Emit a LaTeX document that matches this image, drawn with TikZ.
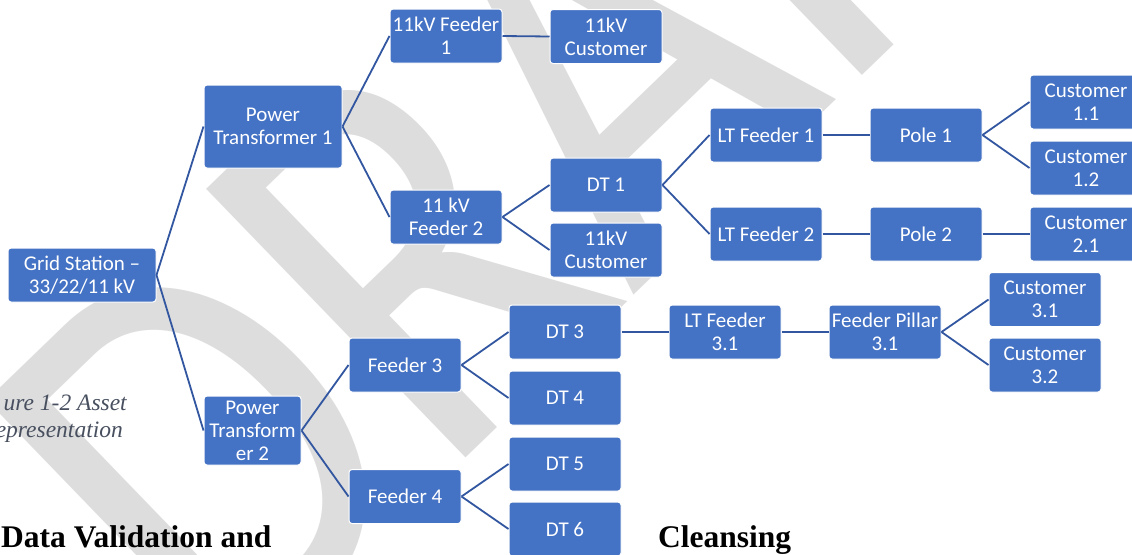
\documentclass[tikz,border=0pt]{standalone}
\usepackage{fontspec}
\newfontfamily\boxfont{Carlito}
\newfontfamily\headfont{Liberation Serif}
\definecolor{boxblue}{RGB}{68,114,196}
\definecolor{linkblue}{RGB}{50,87,160}
\definecolor{wmgray}{RGB}{221,221,221}
\definecolor{capgray}{RGB}{72,80,96}
\tikzset{
  box/.style={draw=white, line width=1pt, fill=boxblue, rounded corners=3pt,
    text=white, font=\boxfont\fontsize{21}{23}\selectfont, align=center,
    minimum width=112pt, minimum height=54pt, inner sep=0pt},
  link/.style={draw=linkblue, line width=1.8pt},
  plain/.style={inner sep=0pt},
  captext/.style={plain, anchor=base east, text=capgray,
    font=\headfont\itshape\fontsize{23.5}{27}\selectfont},
  headtext/.style={plain, anchor=base west,
    font=\headfont\bfseries\fontsize{31.5}{36}\selectfont},
}
\begin{document}
\begin{tikzpicture}[x=1pt,y=-1pt]
\useasboundingbox (0,0) rectangle (1132,554);
\fill[white] (0,0) rectangle (1132,554);
% watermark
\node[plain, rotate=44, anchor=base west, text=wmgray,
  font=\boxfont\fontsize{582}{582}\selectfont] (wm) at (222,693) {\scalebox{0.847}[1]{DRAFT}};
% caption and heading
\node[captext] (cap1) at (127,410) {ure 1-2 Asset};
\node[captext] (cap2) at (123,437) {epresentation};
\node[headtext] (h1) at (1,547) {Data Validation and};
\node[headtext] (h2) at (658,547) {Cleansing};
% boxes
\node[box, minimum width=148pt] (gs) at (82,275) {Grid Station –\\33/22/11 kV};
\node[box, minimum width=138pt, minimum height=83pt] (pt1) at (273,126.5) {Power\\Transformer 1};
\node[box, minimum width=97pt, minimum height=69pt] (pt2) at (252.5,430.5) {Power\\Transform\\er 2};
\node[box] (f1) at (446,36) {11kV Feeder\\1};
\node[box] (c11) at (606,36.5) {11kV\\Customer};
\node[box] (f2) at (446,217) {11 kV\\Feeder 2};
\node[box] (dt1) at (606,185) {DT 1};
\node[box] (c12) at (606,250) {11kV\\Customer};
\node[box] (ltf1) at (766,135) {LT Feeder 1};
\node[box] (pole1) at (926,135) {Pole 1};
\node[box] (cu11) at (1086,102) {Customer\\1.1};
\node[box] (cu12) at (1086,168) {Customer\\1.2};
\node[box] (ltf2) at (766,234) {LT Feeder 2};
\node[box] (pole2) at (926,234) {Pole 2};
\node[box] (cu21) at (1086,234) {Customer\\2.1};
\node[box] (f3) at (405,365) {Feeder 3};
\node[box] (f4) at (405,496.5) {Feeder 4};
\node[box] (dt3) at (565,332) {DT 3};
\node[box] (dt4) at (565,398) {DT 4};
\node[box] (dt5) at (565,464) {DT 5};
\node[box] (dt6) at (565,529) {DT 6};
\node[box] (ltf31) at (725,332) {LT Feeder\\3.1};
\node[box] (fp31) at (885,332) {Feeder Pillar\\3.1};
\node[box] (cu31) at (1045,299.5) {Customer\\3.1};
\node[box] (cu32) at (1045,365) {Customer\\3.2};
% connectors
\foreach \a/\b in {gs/pt1, gs/pt2, pt1/f1, pt1/f2, f1/c11, f2/dt1, f2/c12,
  dt1/ltf1, dt1/ltf2, ltf1/pole1, pole1/cu11, pole1/cu12, ltf2/pole2, pole2/cu21,
  pt2/f3, pt2/f4, f3/dt3, f3/dt4, f4/dt5, f4/dt6, dt3/ltf31, ltf31/fp31,
  fp31/cu31, fp31/cu32}
  \draw[link] (\a.east) -- (\b.west);
\end{tikzpicture}
\end{document}
